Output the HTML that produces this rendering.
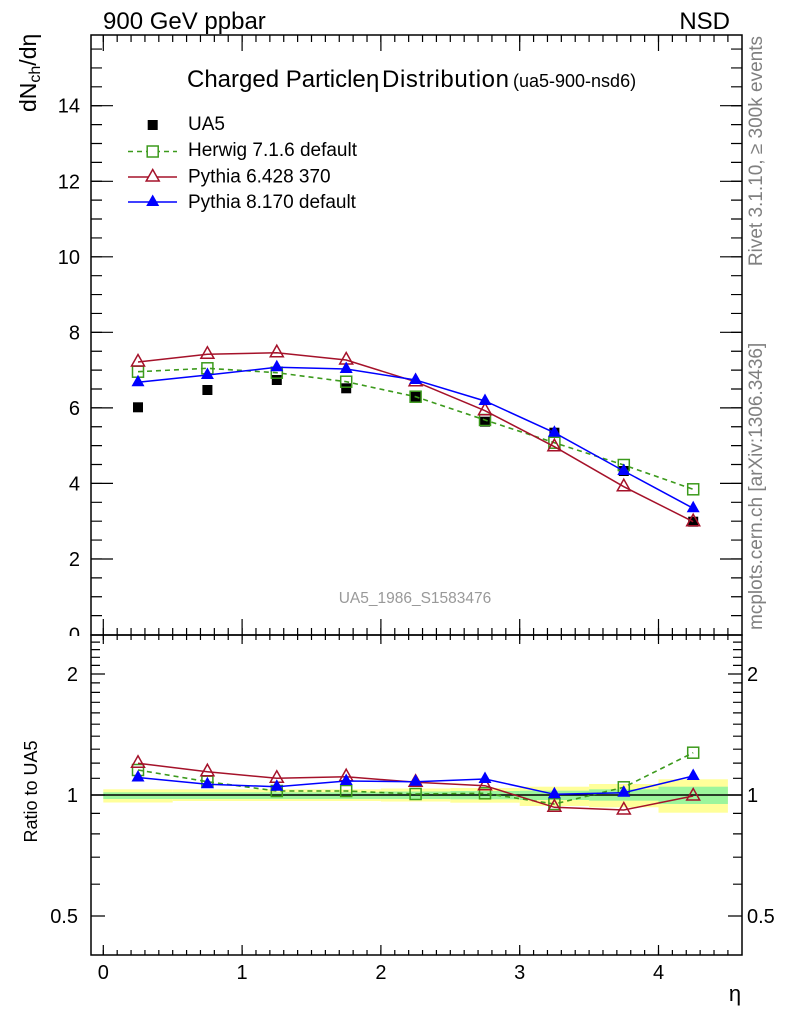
<!DOCTYPE html>
<html>
<head>
<meta charset="utf-8">
<style>
html,body{margin:0;padding:0;background:#fff;}
svg{display:block;}
text{font-family:"Liberation Sans",Arial,sans-serif;}
</style>
</head>
<body>
<svg width="786" height="1024" viewBox="0 0 786 1024" xmlns="http://www.w3.org/2000/svg">
<defs>
  <path id="xm" d="M103.3 0v1m13.88-1v1m13.88-1v1m13.88-1v1m13.88-1v1m13.88-1v1m13.88-1v1m13.88-1v1m13.88-1v1m13.88-1v1m13.88-1v1m13.88-1v1m13.88-1v1m13.88-1v1m13.88-1v1m13.88-1v1m13.88-1v1m13.88-1v1m13.88-1v1m13.88-1v1m13.88-1v1m13.88-1v1m13.88-1v1m13.88-1v1m13.88-1v1m13.88-1v1m13.88-1v1m13.88-1v1m13.88-1v1m13.88-1v1m13.88-1v1m13.88-1v1m13.88-1v1m13.88-1v1m13.88-1v1m13.88-1v1m13.88-1v1m13.88-1v1m13.88-1v1m13.88-1v1m13.88-1v1m13.88-1v1m13.88-1v1m13.88-1v1m13.88-1v1m13.88-1v1" fill="none" stroke="#000" stroke-width="1.2"/>
  <path id="ym" d="M0 615.615h1m-1-18.885h1m-1-18.885h1m-1-18.885h1m-1-18.885h1m-1-18.885h1m-1-18.885h1m-1-18.885h1m-1-18.885h1m-1-18.885h1m-1-18.885h1m-1-18.885h1m-1-18.885h1m-1-18.885h1m-1-18.885h1m-1-18.885h1m-1-18.885h1m-1-18.885h1m-1-18.885h1m-1-18.885h1m-1-18.885h1m-1-18.885h1m-1-18.885h1m-1-18.885h1m-1-18.885h1m-1-18.885h1m-1-18.885h1m-1-18.885h1m-1-18.885h1m-1-18.885h1m-1-18.885h1" fill="none" stroke="#000" stroke-width="1.2"/>
  <path id="tri" d="M0-7.5L6.5 4L-6.5 4Z"/>
  <rect id="sq" x="-5.5" y="-5.5" width="11" height="11"/>
  <rect id="dsq" x="-5" y="-5" width="10" height="10"/>
</defs>

<!-- Top labels -->
<text x="103" y="29" font-size="24">900 GeV ppbar</text>
<text x="730" y="29" font-size="24" text-anchor="end">NSD</text>

<!-- ===== MAIN PANEL ===== -->
<!-- minor x ticks -->
<use href="#xm" transform="translate(0,35) scale(1,7)"/>
<use href="#xm" transform="translate(0,635) scale(1,-7)"/>
<!-- major x ticks -->
<path d="M103.3 35v16M242.1 35v16M380.9 35v16M519.7 35v16M658.5 35v16M103.3 635v-16M242.1 635v-16M380.9 635v-16M519.7 635v-16M658.5 635v-16" stroke="#000" stroke-width="1.2" fill="none"/>
<!-- minor y ticks -->
<use href="#ym" transform="translate(91,0) scale(11,1)"/>
<use href="#ym" transform="translate(742,0) scale(-11,1)"/>
<!-- major y ticks -->
<path d="M91 559h22M91 483.4h22M91 407.9h22M91 332.3h22M91 256.8h22M91 181.3h22M91 105.7h22M742 559h-22M742 483.4h-22M742 407.9h-22M742 332.3h-22M742 256.8h-22M742 181.3h-22M742 105.7h-22" stroke="#000" stroke-width="1.2" fill="none"/>

<!-- y tick labels -->
<g font-size="20" text-anchor="end">
  <text x="80" y="641.5">0</text>
  <text x="80" y="566">2</text>
  <text x="80" y="490.4">4</text>
  <text x="80" y="414.9">6</text>
  <text x="80" y="339.3">8</text>
  <text x="80" y="263.8">10</text>
  <text x="80" y="188.3">12</text>
  <text x="80" y="112.7">14</text>
</g>

<!-- y axis title -->
<text transform="translate(36,112) rotate(-90)" font-size="23">dN<tspan font-size="16" dy="4">ch</tspan><tspan dy="-4">/dη</tspan></text>

<!-- Title -->
<text x="187" y="87" font-size="24">Charged Particle</text>
<text x="366" y="87" font-size="24">η</text>
<text x="382" y="87" font-size="24" textLength="127" lengthAdjust="spacing">Distribution</text>
<text x="513" y="87" font-size="18">(ua5-900-nsd6)</text>

<!-- Legend -->
<use href="#dsq" x="152.7" y="125" fill="#000"/>
<text x="188" y="130" font-size="19">UA5</text>
<path d="M128 151.5H177" stroke="#3c9a1c" stroke-width="1.5" stroke-dasharray="5,4" fill="none"/>
<use href="#sq" x="152.7" y="151.5" fill="#fff" stroke="#3c9a1c" stroke-width="1.5"/>
<text x="188" y="156" font-size="19">Herwig 7.1.6 default</text>
<path d="M128 177H177" stroke="#a5122a" stroke-width="1.5" fill="none"/>
<use href="#tri" x="152.7" y="177" fill="#fff" stroke="#a5122a" stroke-width="1.5"/>
<text x="188" y="182.5" font-size="19">Pythia 6.428 370</text>
<path d="M128 202H177" stroke="#0000ff" stroke-width="1.5" fill="none"/>
<use href="#tri" x="152.7" y="202" fill="#0000ff"/>
<text x="188" y="208" font-size="19">Pythia 8.170 default</text>

<!-- UA5 data -->
<g fill="#000">
  <use href="#dsq" x="138" y="407.3"/>
  <use href="#dsq" x="207.4" y="390"/>
  <use href="#dsq" x="276.8" y="380"/>
  <use href="#dsq" x="346.2" y="388.3"/>
  <use href="#dsq" x="415.6" y="396.7"/>
  <use href="#dsq" x="485" y="421.7"/>
  <use href="#dsq" x="554.4" y="432.7"/>
  <use href="#dsq" x="623.8" y="471"/>
  <use href="#dsq" x="693.2" y="521.7"/>
</g>

<!-- Herwig -->
<polyline points="138,371.7 207.4,368.3 276.8,372.7 346.2,381.7 415.6,396.7 485,420 554.4,442.7 623.8,465 693.2,489.3" fill="none" stroke="#3c9a1c" stroke-width="1.6" stroke-dasharray="5,4"/>
<g fill="none" stroke="#3c9a1c" stroke-width="1.5">
  <use href="#sq" x="138" y="371.7"/>
  <use href="#sq" x="207.4" y="368.3"/>
  <use href="#sq" x="276.8" y="372.7"/>
  <use href="#sq" x="346.2" y="381.7"/>
  <use href="#sq" x="415.6" y="396.7"/>
  <use href="#sq" x="485" y="420"/>
  <use href="#sq" x="554.4" y="442.7"/>
  <use href="#sq" x="623.8" y="465"/>
  <use href="#sq" x="693.2" y="489.3"/>
</g>

<!-- Pythia 6 -->
<polyline points="138,362 207.4,354.3 276.8,352.7 346.2,360 415.6,381.7 485,410.7 554.4,446.7 623.8,486.7 693.2,521.7" fill="none" stroke="#a5122a" stroke-width="1.5"/>
<g fill="none" stroke="#a5122a" stroke-width="1.5">
  <use href="#tri" x="138" y="362"/>
  <use href="#tri" x="207.4" y="354.3"/>
  <use href="#tri" x="276.8" y="352.7"/>
  <use href="#tri" x="346.2" y="360"/>
  <use href="#tri" x="415.6" y="381.7"/>
  <use href="#tri" x="485" y="410.7"/>
  <use href="#tri" x="554.4" y="446.7"/>
  <use href="#tri" x="623.8" y="486.7"/>
  <use href="#tri" x="693.2" y="521.7"/>
</g>

<!-- Pythia 8 -->
<polyline points="138,382.3 207.4,375 276.8,367.3 346.2,369 415.6,380 485,401 554.4,432.7 623.8,471 693.2,508.3" fill="none" stroke="#0000ff" stroke-width="1.5"/>
<g fill="#0000ff">
  <use href="#tri" x="138" y="382.3"/>
  <use href="#tri" x="207.4" y="375"/>
  <use href="#tri" x="276.8" y="367.3"/>
  <use href="#tri" x="346.2" y="369"/>
  <use href="#tri" x="415.6" y="380"/>
  <use href="#tri" x="485" y="401"/>
  <use href="#tri" x="554.4" y="432.7"/>
  <use href="#tri" x="623.8" y="471"/>
  <use href="#tri" x="693.2" y="508.3"/>
</g>

<text x="415" y="603" font-size="15.5" fill="#999" text-anchor="middle">UA5_1986_S1583476</text>

<!-- main frame -->
<rect x="91" y="35" width="651" height="600" fill="none" stroke="#000" stroke-width="1.5"/>

<!-- cover below main panel for clipped "0" -->
<rect x="0" y="636" width="90" height="20" fill="#fff"/>

<!-- ===== RATIO PANEL ===== -->
<!-- bands yellow -->
<g fill="#ffff9a">
  <rect x="103.3" y="789.3" width="69.4" height="13.2"/>
  <rect x="172.7" y="789.3" width="208.2" height="11.7"/>
  <rect x="380.9" y="788.5" width="69.4" height="13"/>
  <rect x="450.3" y="788" width="69.4" height="14.7"/>
  <rect x="519.7" y="786.7" width="69.4" height="19.3"/>
  <rect x="589.1" y="784" width="69.4" height="23.3"/>
  <rect x="658.5" y="779.3" width="69.4" height="33.4"/>
</g>
<g fill="#9cf59c">
  <rect x="103.3" y="792.3" width="277.6" height="6.7"/>
  <rect x="380.9" y="791.5" width="69.4" height="7.5"/>
  <rect x="450.3" y="791" width="69.4" height="8.3"/>
  <rect x="519.7" y="790.7" width="69.4" height="9.3"/>
  <rect x="589.1" y="789.3" width="69.4" height="11.4"/>
  <rect x="658.5" y="786.7" width="69.4" height="17.3"/>
</g>
<path d="M91 795H742" stroke="#000" stroke-width="1.5"/>

<!-- ratio x ticks -->
<use href="#xm" transform="translate(0,635) scale(1,5)"/>
<use href="#xm" transform="translate(0,955) scale(1,-5)"/>
<path d="M103.3 635v9M242.1 635v9M380.9 635v9M519.7 635v9M658.5 635v9M103.3 955v-10M242.1 955v-10M380.9 955v-10M519.7 955v-10M658.5 955v-10" stroke="#000" stroke-width="1.2" fill="none"/>

<!-- ratio y ticks -->
<path d="M91 642.1h9M91 649.6h9M91 657.3h9M91 665.4h9M91 682.9h9M91 692.4h9M91 702.3h9M91 712.9h9M91 724.2h9M91 736.2h9M91 749.2h9M91 763.1h9M91 778.3h9M91 813.4h9M91 833.9h9M91 857.2h9M91 884.2h9M91 674h14M91 795h14M91 916h14
M742 642.1h-9M742 649.6h-9M742 657.3h-9M742 665.4h-9M742 682.9h-9M742 692.4h-9M742 702.3h-9M742 712.9h-9M742 724.2h-9M742 736.2h-9M742 749.2h-9M742 763.1h-9M742 778.3h-9M742 813.4h-9M742 833.9h-9M742 857.2h-9M742 884.2h-9M742 674h-14M742 795h-14M742 916h-14" stroke="#000" stroke-width="1.2" fill="none"/>

<!-- ratio series -->
<polyline points="138,770 207.4,781.7 276.8,791 346.2,791 415.6,794 485,793.3 554.4,804 623.8,787.3 693.2,752.7" fill="none" stroke="#3c9a1c" stroke-width="1.6" stroke-dasharray="5,4"/>
<g fill="none" stroke="#3c9a1c" stroke-width="1.5">
  <use href="#sq" x="138" y="770"/>
  <use href="#sq" x="207.4" y="781.7"/>
  <use href="#sq" x="276.8" y="791"/>
  <use href="#sq" x="346.2" y="791"/>
  <use href="#sq" x="415.6" y="794"/>
  <use href="#sq" x="485" y="793.3"/>
  <use href="#sq" x="554.4" y="804"/>
  <use href="#sq" x="623.8" y="787.3"/>
  <use href="#sq" x="693.2" y="752.7"/>
</g>
<polyline points="138,763.3 207.4,771.7 276.8,778.3 346.2,776.7 415.6,782.3 485,785.7 554.4,807.3 623.8,810 693.2,796" fill="none" stroke="#a5122a" stroke-width="1.5"/>
<g fill="none" stroke="#a5122a" stroke-width="1.5">
  <use href="#tri" x="138" y="763.3"/>
  <use href="#tri" x="207.4" y="771.7"/>
  <use href="#tri" x="276.8" y="778.3"/>
  <use href="#tri" x="346.2" y="776.7"/>
  <use href="#tri" x="415.6" y="782.3"/>
  <use href="#tri" x="485" y="785.7"/>
  <use href="#tri" x="554.4" y="807.3"/>
  <use href="#tri" x="623.8" y="810"/>
  <use href="#tri" x="693.2" y="796"/>
</g>
<polyline points="138,777.5 207.4,784.3 276.8,786.7 346.2,781 415.6,781.7 485,779 554.4,794.3 623.8,792.7 693.2,776" fill="none" stroke="#0000ff" stroke-width="1.5"/>
<g fill="#0000ff">
  <use href="#tri" x="138" y="777.5"/>
  <use href="#tri" x="207.4" y="784.3"/>
  <use href="#tri" x="276.8" y="786.7"/>
  <use href="#tri" x="346.2" y="781"/>
  <use href="#tri" x="415.6" y="781.7"/>
  <use href="#tri" x="485" y="779"/>
  <use href="#tri" x="554.4" y="794.3"/>
  <use href="#tri" x="623.8" y="792.7"/>
  <use href="#tri" x="693.2" y="776"/>
</g>

<!-- ratio frame -->
<rect x="91" y="635" width="651" height="320" fill="none" stroke="#000" stroke-width="1.5"/>

<!-- ratio y labels -->
<g font-size="20">
  <text x="78" y="681" text-anchor="end">2</text>
  <text x="78" y="802" text-anchor="end">1</text>
  <text x="78" y="923" text-anchor="end">0.5</text>
  <text x="747" y="681">2</text>
  <text x="747" y="802">1</text>
  <text x="747" y="923">0.5</text>
</g>
<text transform="translate(37,791.5) rotate(-90)" font-size="18" text-anchor="middle">Ratio to UA5</text>

<!-- x labels -->
<g font-size="20" text-anchor="middle">
  <text x="103.3" y="979">0</text>
  <text x="242.1" y="979">1</text>
  <text x="380.9" y="979">2</text>
  <text x="519.7" y="979">3</text>
  <text x="658.5" y="979">4</text>
</g>
<text x="735" y="1001" font-size="22" text-anchor="middle">η</text>

<!-- right side rotated labels -->
<text transform="translate(762,36) rotate(-90)" font-size="19" fill="#808080" text-anchor="end">Rivet 3.1.10, ≥ 300k events</text>
<text transform="translate(762,630) rotate(-90)" font-size="19" fill="#808080">mcplots.cern.ch [arXiv:1306.3436]</text>
</svg>
</body>
</html>
